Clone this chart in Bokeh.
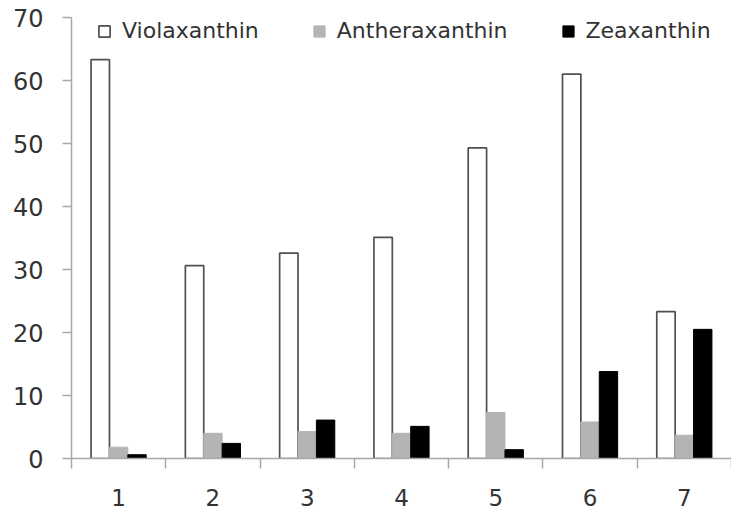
from bokeh.plotting import figure
from bokeh.models import ColumnDataSource, FixedTicker, Range1d, Legend, LegendItem
from bokeh.transform import dodge
from bokeh.embed import file_html
from bokeh.resources import INLINE

categories = [1, 2, 3, 4, 5, 6, 7]
violaxanthin = [63.3, 30.6, 32.6, 35.1, 49.3, 61.0, 23.3]
antheraxanthin = [1.8, 4.0, 4.3, 4.0, 7.3, 5.8, 3.7]
zeaxanthin = [0.6, 2.4, 6.1, 5.1, 1.4, 13.8, 20.5]
y_ticks = [0, 10, 20, 30, 40, 50, 60, 70]
series_names = ["Violaxanthin", "Antheraxanthin", "Zeaxanthin"]

src = ColumnDataSource(dict(x=categories, v=violaxanthin, a=antheraxanthin, z=zeaxanthin))

FONT = "DejaVu Sans"
AXIS_COL = "#a8a8a8"
TEXT_COL = "#333333"

p = figure(width=731, height=512, output_backend="svg", toolbar_location=None,
           x_range=Range1d(0.5, len(categories) + 0.5), y_range=Range1d(0, 70),
           min_border_left=71, min_border_top=17, min_border_right=0, min_border_bottom=54)
p.outline_line_color = None
p.xgrid.grid_line_color = None
p.ygrid.grid_line_color = None

w = 0.195
r_v = p.vbar(x=dodge("x", -w, range=p.x_range), top="v", width=w, source=src,
             fill_color="white", line_color="#505050", line_width=1.7)
r_a = p.vbar(x=dodge("x", 0, range=p.x_range), top="a", width=w, source=src,
             fill_color="#b4b4b4", line_color="#b4b4b4", line_width=1)
r_z = p.vbar(x=dodge("x", w, range=p.x_range), top="z", width=w, source=src,
             fill_color="black", line_color="black", line_width=1)

# y axis
ya = p.yaxis[0]
ya.ticker = FixedTicker(ticks=y_ticks)
ya.axis_line_color = AXIS_COL
ya.axis_line_width = 1.5
ya.major_tick_line_color = AXIS_COL
ya.major_tick_line_width = 1.5
ya.major_tick_in = 0
ya.major_tick_out = 9
ya.minor_tick_line_color = None
ya.major_label_text_font = FONT
ya.major_label_text_font_size = "24px"
ya.major_label_text_color = TEXT_COL
ya.major_label_standoff = 19

# x axis: labels at category centres, ticks between categories
xa = p.xaxis[0]
xa.ticker = FixedTicker(ticks=categories,
                        minor_ticks=[c - 0.5 for c in categories] + [categories[-1] + 0.5])
xa.axis_line_color = AXIS_COL
xa.axis_line_width = 1.5
xa.major_tick_line_color = None
xa.major_tick_in = 0
xa.major_tick_out = 0
xa.minor_tick_line_color = AXIS_COL
xa.minor_tick_line_width = 1.5
xa.minor_tick_in = 0
xa.minor_tick_out = 10
xa.major_label_text_font = FONT
xa.major_label_text_font_size = "23px"
xa.major_label_text_color = TEXT_COL
xa.major_label_standoff = 20

legend = Legend(items=[LegendItem(label=series_names[0], renderers=[r_v]),
                       LegendItem(label=series_names[1], renderers=[r_a]),
                       LegendItem(label=series_names[2], renderers=[r_z])],
                orientation="horizontal", location=(26, 415),
                padding=0, margin=0, spacing=53, label_standoff=11,
                glyph_width=14, glyph_height=14,
                label_text_font=FONT, label_text_font_size="22px",
                label_text_color=TEXT_COL,
                background_fill_alpha=0, border_line_alpha=0)
p.add_layout(legend)

open("out.html", "w").write(file_html(p, INLINE))
